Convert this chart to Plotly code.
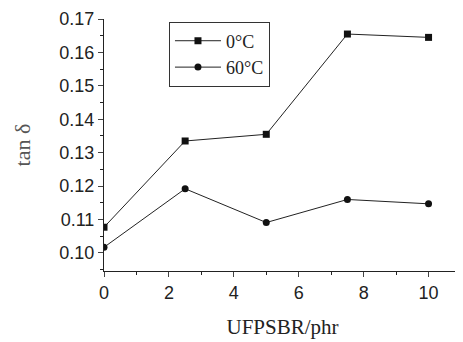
import plotly.graph_objects as go

x_phr = [0, 2.5, 5, 7.5, 10]
tan_0C = [0.1077, 0.1335, 0.1355, 0.1655, 0.1645]
tan_60C = [0.1017, 0.1192, 0.1091, 0.1160, 0.1147]
y_ticks = [0.10, 0.11, 0.12, 0.13, 0.14, 0.15, 0.16, 0.17]
y_tick_labels = ["0.10", "0.11", "0.12", "0.13", "0.14", "0.15", "0.16", "0.17"]
x_ticks = [0, 2, 4, 6, 8, 10]
series_names = ["0\u00b0C", "60\u00b0C"]

SANS = "Liberation Sans, Arial, Helvetica, sans-serif"
SERIF = "Liberation Serif, Times New Roman, Times, serif"

fig = go.Figure()
fig.add_trace(go.Scatter(x=x_phr, y=tan_0C, mode="lines+markers", name=series_names[0],
                         line=dict(color="#222", width=1),
                         marker=dict(symbol="square", size=7, color="#111")))
fig.add_trace(go.Scatter(x=x_phr, y=tan_60C, mode="lines+markers", name=series_names[1],
                         line=dict(color="#222", width=1),
                         marker=dict(symbol="circle", size=7, color="#111")))

# page body adds an 8px offset; figure is sized so the plot area lands where the reference has it
fig.update_layout(
    width=455, height=334,
    margin=dict(l=96, r=2, t=11, b=71),
    plot_bgcolor="white", paper_bgcolor="white",
    showlegend=True,
    legend=dict(x=0.182, y=0.99, xanchor="left", yanchor="top",
                bordercolor="#333", borderwidth=1, bgcolor="white",
                font=dict(family=SERIF, size=18, color="#222"),
                itemwidth=46),
    xaxis=dict(range=[0, 11], tickvals=x_ticks, ticks="outside", ticklen=5,
               showline=True, linecolor="#222", linewidth=1, showgrid=False, zeroline=False,
               automargin=False,
               tickfont=dict(family=SANS, size=18, color="#222"),
               minor=dict(dtick=1, ticks="outside", ticklen=3, tickcolor="#222"),
               title=dict(text="UFPSBR/phr", font=dict(family=SERIF, size=21, color="#222"),
                          standoff=17)),
    yaxis=dict(range=[0.0946, 0.17], tickvals=y_ticks, ticktext=y_tick_labels,
               ticks="outside", ticklen=5,
               showline=True, linecolor="#222", linewidth=1, showgrid=False, zeroline=False,
               automargin=False, ticklabeloverflow="allow",
               tickfont=dict(family=SANS, size=18, color="#222"),
               minor=dict(dtick=0.005, tick0=0.1, ticks="outside", ticklen=3, tickcolor="#222"),
               title=dict(text="tan \u03b4", font=dict(family=SERIF, size=22, color="#555"),
                          standoff=22)),
)

fig.write_html("out.html")
